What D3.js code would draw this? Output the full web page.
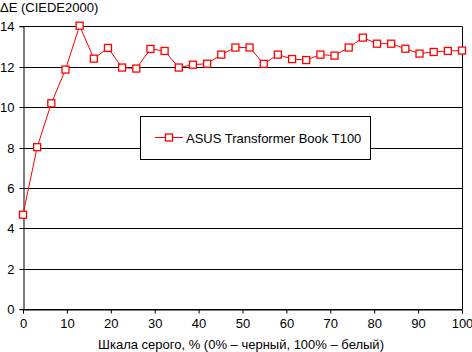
<!DOCTYPE html>
<html><head><meta charset="utf-8">
<script src="https://cdn.jsdelivr.net/npm/d3@7"></script>
<style>body{margin:0;background:#fff;} text{font-family:"Liberation Sans",Arial,sans-serif;font-size:13px;fill:#000;}</style>
</head><body>
<svg id="c" width="472" height="352"></svg>
<script>
const seriesName = "ASUS Transformer Book T100";
const deltaE = [4.68, 8.02, 10.19, 11.86, 14.03, 12.40, 12.93, 11.96, 11.91, 12.88, 12.78, 11.96, 12.10, 12.15, 12.60, 12.95, 12.95, 12.14, 12.60, 12.38, 12.33, 12.60, 12.55, 12.95, 13.44, 13.14, 13.14, 12.89, 12.65, 12.73, 12.78, 12.80];
const grayLevels = deltaE.map((d, i) => i * 100 / (deltaE.length - 1));
const xTicks = [0,10,20,30,40,50,60,70,80,90,100];
const yTicks = [0,2,4,6,8,10,12,14];
const yTitle = "ΔE (CIEDE2000)";
const xTitle = "Шкала серого, % (0% – черный, 100% – белый)";

const svg = d3.select("#c");
const x = d3.scaleLinear().domain([0,100]).range([23,462]);
const y = d3.scaleLinear().domain([0,14]).range([309.3,26.3]);

svg.append("g").selectAll("line").data(yTicks).join("line")
  .attr("x1", x(0)).attr("x2", x(100))
  .attr("y1", d => Math.round(y(d))+0.5).attr("y2", d => Math.round(y(d))+0.5)
  .attr("stroke","#000").attr("stroke-width",1);
svg.append("line").attr("x1",462.5).attr("x2",462.5).attr("y1",Math.round(y(14))+0.5).attr("y2",Math.round(y(0))+0.5).attr("stroke","#000");

const yAxis = svg.append("g").attr("transform","translate(23.5,0)")
  .call(d3.axisLeft(y).tickValues(yTicks).tickSize(4).tickPadding(5).tickFormat(d3.format("d")));
yAxis.select(".domain").attr("stroke","#000");
yAxis.selectAll(".tick").attr("transform", d => `translate(0,${Math.round(y(d))+0.5})`);
yAxis.selectAll("text").style("font-size","13px").attr("fill","#000").attr("font-family",null);

const xAxis = svg.append("g").attr("transform",`translate(0,${Math.round(y(0))+0.5})`)
  .call(d3.axisBottom(x).tickValues(xTicks).tickSize(4).tickPadding(5).tickFormat(d3.format("d")));
xAxis.select(".domain").attr("stroke","#000");
xAxis.selectAll("text").style("font-size","13px").attr("fill","#000").attr("font-family",null);
svg.selectAll(".tick line").attr("stroke","#000");

const pts = deltaE.map((d,i)=>[grayLevels[i], d]);
svg.append("path").datum(pts)
  .attr("d", d3.line().x(d=>x(d[0])).y(d=>y(d[1])))
  .attr("fill","none").attr("stroke","#ff0000").attr("stroke-width",1);
svg.append("g").selectAll("rect").data(pts).join("rect")
  .attr("x", d=>x(d[0])-3.5).attr("y", d=>y(d[1])-3.5)
  .attr("width",7).attr("height",7)
  .attr("fill","#fff").attr("stroke","#ff0000").attr("stroke-width",1.3);

const lg = svg.append("g");
lg.append("rect").attr("x",140.5).attr("y",116.5).attr("width",230).attr("height",43)
  .attr("fill","#fff").attr("stroke","#000").attr("stroke-width",1);
lg.append("line").attr("x1",155).attr("x2",183).attr("y1",137.5).attr("y2",137.5).attr("stroke","#ff0000");
lg.append("rect").attr("x",165.5).attr("y",134).attr("width",7).attr("height",7)
  .attr("fill","#fff").attr("stroke","#ff0000").attr("stroke-width",1.3);
lg.append("text").attr("x",186).attr("y",142.5).text(seriesName);

svg.append("text").attr("x",0).attr("y",12).text(yTitle);
svg.append("text").attr("x",241).attr("y",349).attr("text-anchor","middle").text(xTitle);
</script>
</body></html>
